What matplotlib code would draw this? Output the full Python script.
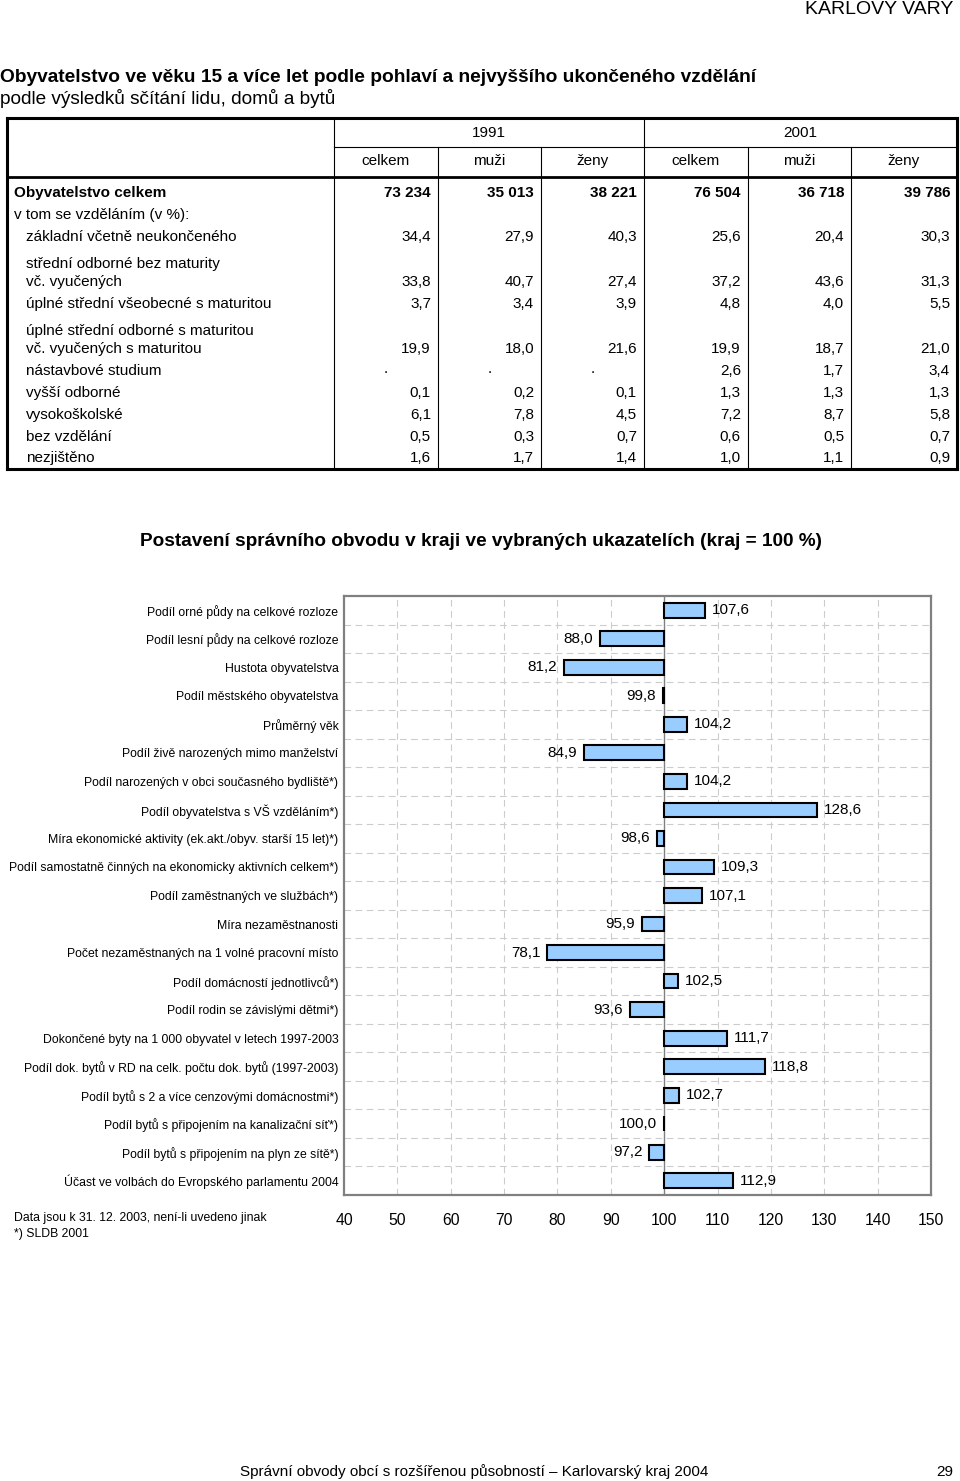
import matplotlib
matplotlib.use('Agg')
import matplotlib.pyplot as plt
from matplotlib.lines import Line2D

plt.rcParams['font.family'] = ['Liberation Sans', 'DejaVu Sans']

# ---- table data ----
col_years = ['1991', '2001']
col_sex = ['celkem', 'muži', 'ženy', 'celkem', 'muži', 'ženy']

total_label = 'Obyvatelstvo celkem'
total_values = [73234, 35013, 38221, 76504, 36718, 39786]
sub_heading = 'v tom se vzděláním (v %):'

edu_labels = ['základní včetně neukončeného',
              'střední odborné bez maturity\nvč. vyučených',
              'úplné střední všeobecné s maturitou',
              'úplné střední odborné s maturitou\nvč. vyučených s maturitou',
              'nástavbové studium',
              'vyšší odborné',
              'vysokoškolské',
              'bez vzdělání',
              'nezjištěno']
edu_1991_celkem = [34.4, 33.8, 3.7, 19.9, None, 0.1, 6.1, 0.5, 1.6]
edu_1991_muzi = [27.9, 40.7, 3.4, 18.0, None, 0.2, 7.8, 0.3, 1.7]
edu_1991_zeny = [40.3, 27.4, 3.9, 21.6, None, 0.1, 4.5, 0.7, 1.4]
edu_2001_celkem = [25.6, 37.2, 4.8, 19.9, 2.6, 1.3, 7.2, 0.6, 1.0]
edu_2001_muzi = [20.4, 43.6, 4.0, 18.7, 1.7, 1.3, 8.7, 0.5, 1.1]
edu_2001_zeny = [30.3, 31.3, 5.5, 21.0, 3.4, 1.3, 5.8, 0.7, 0.9]

# ---- bar chart data (kraj = 100 %) ----
indicators = ['Podíl orné půdy na celkové rozloze',
              'Podíl lesní půdy na celkové rozloze',
              'Hustota obyvatelstva',
              'Podíl městského obyvatelstva',
              'Průměrný věk',
              'Podíl živě narozených mimo manželství',
              'Podíl narozených v obci současného bydliště*)',
              'Podíl obyvatelstva s VŠ vzděláním*)',
              'Míra ekonomické aktivity (ek.akt./obyv. starší 15 let)*)',
              'Podíl samostatně činných na ekonomicky aktivních celkem*)',
              'Podíl zaměstnaných ve službách*)',
              'Míra nezaměstnanosti',
              'Počet nezaměstnaných na 1 volné pracovní místo',
              'Podíl domácností jednotlivců*)',
              'Podíl rodin se závislými dětmi*)',
              'Dokončené byty na 1 000 obyvatel v letech 1997-2003',
              'Podíl dok. bytů v RD na celk. počtu dok. bytů (1997-2003)',
              'Podíl bytů s 2 a více cenzovými domácnostmi*)',
              'Podíl bytů s připojením na kanalizační síť*)',
              'Podíl bytů s připojením na plyn ze sítě*)',
              'Účast ve volbách do Evropského parlamentu 2004']
index_values = [107.6, 88.0, 81.2, 99.8, 104.2, 84.9, 104.2, 128.6, 98.6, 109.3,
                107.1, 95.9, 78.1, 102.5, 93.6, 111.7, 118.8, 102.7, 100.0, 97.2, 112.9]
x_ticks = [40, 50, 60, 70, 80, 90, 100, 110, 120, 130, 140, 150]


def cz(v, dec=1):
    return f'{v:.{dec}f}'.replace('.', ',')


def thousands(v):
    return f'{v:,}'.replace(',', ' ')


W, H = 960, 1481
fig = plt.figure(figsize=(W / 100, H / 100), dpi=100)

# page axes in pixel coordinates
page = fig.add_axes([0, 0, 1, 1])
page.set_xlim(0, W)
page.set_ylim(H, 0)
page.axis('off')

page.text(953, 9, 'KARLOVY VARY', ha='right', va='center', fontsize=14)
page.text(0, 77, 'Obyvatelstvo ve věku 15 a více let podle pohlaví a nejvyššího ukončeného vzdělání',
          ha='left', va='center', fontsize=13.8, fontweight='bold')
page.text(0, 99, 'podle výsledků sčítání lidu, domů a bytů', ha='left', va='center', fontsize=13.7)

# table grid
tl, tr, tt, tb = 7, 957, 118, 469
col_edges = [334, 438, 541, 644, 748, 851, 957]


def hline(y, x0, x1, lw):
    page.add_line(Line2D([x0, x1], [y, y], color='black', lw=lw, solid_capstyle='projecting'))


def vline(x, y0, y1, lw):
    page.add_line(Line2D([x, x], [y0, y1], color='black', lw=lw, solid_capstyle='projecting'))


hline(tt, tl, tr, 2.2)
hline(tb, tl, tr, 2.2)
vline(tl, tt, tb, 2.2)
vline(tr, tt, tb, 2.2)
hline(177, tl, tr, 2.0)
hline(147, 334, tr, 0.8)
vline(334, tt, tb, 0.8)
vline(644, tt, tb, 0.8)
for x in [438, 541, 748, 851]:
    vline(x, 147, tb, 0.8)

fs = 11
page.text((334 + 644) / 2, 133, col_years[0], ha='center', va='center', fontsize=fs)
page.text((644 + 957) / 2, 133, col_years[1], ha='center', va='center', fontsize=fs)
for i, s in enumerate(col_sex):
    page.text((col_edges[i] + col_edges[i + 1]) / 2, 161, s, ha='center', va='center', fontsize=fs)

page.text(14, 193, total_label, ha='left', va='center', fontsize=fs, fontweight='bold')
for i, v in enumerate(total_values):
    page.text(col_edges[i + 1] - 7, 193, thousands(v), ha='right', va='center',
              fontsize=fs, fontweight='bold')
page.text(14, 215, sub_heading, ha='left', va='center', fontsize=fs)

row_y = [237, 282, 304, 349, 371, 393, 415, 437, 458]
columns = [edu_1991_celkem, edu_1991_muzi, edu_1991_zeny,
           edu_2001_celkem, edu_2001_muzi, edu_2001_zeny]
for r, lab in enumerate(edu_labels):
    lines = lab.split('\n')
    y = row_y[r]
    for k, ln in enumerate(lines):
        page.text(26, y - 18 * (len(lines) - 1 - k), ln, ha='left', va='center', fontsize=fs)
    for c, col in enumerate(columns):
        v = col[r]
        if v is None:
            page.text((col_edges[c] + col_edges[c + 1]) / 2, y - 2, '.', ha='center',
                      va='center', fontsize=fs)
        else:
            page.text(col_edges[c + 1] - 7, y, cz(v), ha='right', va='center', fontsize=fs)

page.text(481, 541, 'Postavení správního obvodu v kraji ve vybraných ukazatelích (kraj = 100 %)',
          ha='center', va='center', fontsize=13.7, fontweight='bold')

page.text(14, 1218, 'Data jsou k 31. 12. 2003, není-li uvedeno jinak', ha='left', va='center', fontsize=8.8)
page.text(14, 1234, '*) SLDB 2001', ha='left', va='center', fontsize=8.8)
page.text(240, 1472, 'Správní obvody obcí s rozšířenou působností – Karlovarský kraj 2004',
          ha='left', va='center', fontsize=11)
page.text(953, 1472, '29', ha='right', va='center', fontsize=11)

# ---- bar chart ----
ax_l, ax_r, ax_t, ax_b = 344, 931, 596, 1195
ax = fig.add_axes([ax_l / W, 1 - ax_b / H, (ax_r - ax_l) / W, (ax_b - ax_t) / H])
n = len(indicators)
pos = list(range(n))
widths = [v - 100 for v in index_values]
ax.barh(pos, widths, left=100, height=0.52, color='#99CCFF', edgecolor='black',
        linewidth=1.5, zorder=3)
ax.set_xlim(40, 150)
ax.set_ylim(n - 0.5, -0.5)
ax.set_xticks(x_ticks)
ax.set_xticklabels([str(t) for t in x_ticks], fontsize=11.3)
ax.set_yticks(pos)
ax.set_yticklabels(indicators, fontsize=8.8)
ax.tick_params(axis='both', length=0)
ax.tick_params(axis='x', pad=13)
ax.tick_params(axis='y', pad=4)

for x in x_ticks[1:-1]:
    if x != 100:
        ax.axvline(x, color='#cccccc', lw=0.8, ls=(0, (6, 4)), zorder=1)
for i in range(n - 1):
    ax.axhline(i + 0.5, color='#cccccc', lw=0.8, ls=(0, (6, 4)), zorder=1)
ax.axvline(100, color='#808080', lw=1.0, zorder=2)

for i, v in enumerate(index_values):
    if v > 100:
        ax.annotate(cz(v), (v, i), xytext=(5, 0), textcoords='offset points',
                    ha='left', va='center', fontsize=11)
    else:
        ax.annotate(cz(v), (v, i), xytext=(-5, 0), textcoords='offset points',
                    ha='right', va='center', fontsize=11)

for sp in ax.spines.values():
    sp.set_color('#808080')
    sp.set_linewidth(1.6)

fig.savefig('out.png', dpi=100)
